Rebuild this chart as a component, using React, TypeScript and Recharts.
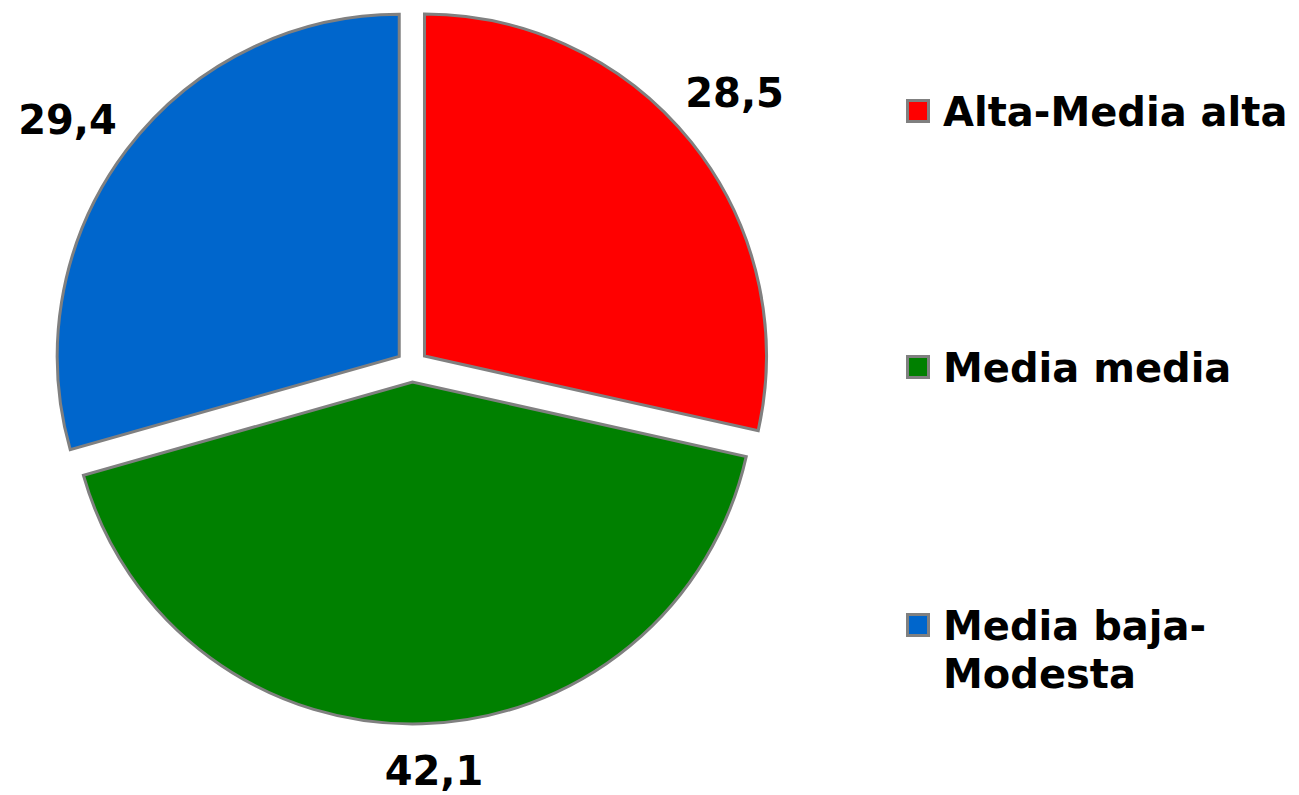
import { PieChart, Pie, Cell, Legend, Sector } from 'recharts';

const categories = ['Alta-Media alta', 'Media media', 'Media baja-Modesta'];
const shares = [28.5, 42.1, 29.4];
const colors = ['#FF0000', '#008000', '#0066CC'];

const data = categories.map((name, i) => ({ name, value: shares[i] }));

const RADIAN = Math.PI / 180;
const EXPLODE = 16;
const FONT = '"DejaVu Sans", Verdana, sans-serif';

// pulls every slice out along its mid angle
const ExplodedSlice = (props: any) => {
  const { cx, cy, midAngle } = props;
  const dx = EXPLODE * Math.cos(-midAngle * RADIAN);
  const dy = EXPLODE * Math.sin(-midAngle * RADIAN);
  return <Sector {...props} cx={cx + dx} cy={cy + dy} />;
};

const renderLabel = (props: any) => {
  const { cx, cy, midAngle, outerRadius, value } = props;
  const angle = midAngle + 1.5;
  const cos = Math.cos(-angle * RADIAN);
  const sin = Math.sin(-angle * RADIAN);
  const r = outerRadius + 62 + 24 * Math.abs(cos);
  return (
    <text
      x={cx + r * cos}
      y={cy + r * sin}
      textAnchor="middle"
      dominantBaseline="central"
      fontFamily={FONT}
      fontWeight="bold"
      fontSize={40}
      fill="#000"
    >
      {value.toFixed(1).replace('.', ',')}
    </text>
  );
};

const renderLegend = ({ payload }: any) => {
  const items = [...(payload || [])].sort(
    (a: any, b: any) => categories.indexOf(a.value) - categories.indexOf(b.value)
  );
  return (
    <div style={{ fontFamily: FONT, fontWeight: 'bold', fontSize: 40, lineHeight: '48px', color: '#000' }}>
      {items.map((entry: any, i: number) => (
        <div key={i} style={{ display: 'flex', alignItems: 'flex-start', height: i === 0 ? 256 : 258 }}>
          <div
            style={{
              width: 24,
              height: 24,
              boxSizing: 'border-box',
              border: '3px solid #808080',
              background: entry.color,
              marginTop: 11,
              flexShrink: 0,
            }}
          />
          <div style={{ marginLeft: 13, width: 356 }}>{entry.value}</div>
        </div>
      ))}
    </div>
  );
};

export default function App() {
  return (
    <div style={{ width: 1299, height: 795, background: '#fff' }}>
      <style>{`body{margin:0}`}</style>
      <PieChart width={1299} height={795} margin={{ top: 0, right: 0, bottom: 0, left: 0 }}>
        <Pie
          data={data}
          dataKey="value"
          nameKey="name"
          cx={412}
          cy={366}
          outerRadius={342}
          startAngle={90}
          endAngle={-270}
          stroke="#808080"
          strokeWidth={3}
          shape={ExplodedSlice}
          label={renderLabel}
          labelLine={false}
          isAnimationActive={false}
        >
          {data.map((d, i) => (
            <Cell key={d.name} fill={colors[i]} />
          ))}
        </Pie>
        <Legend
          layout="vertical"
          content={renderLegend}
          wrapperStyle={{ left: 906, top: 88, width: 393 }}
        />
      </PieChart>
    </div>
  );
}
